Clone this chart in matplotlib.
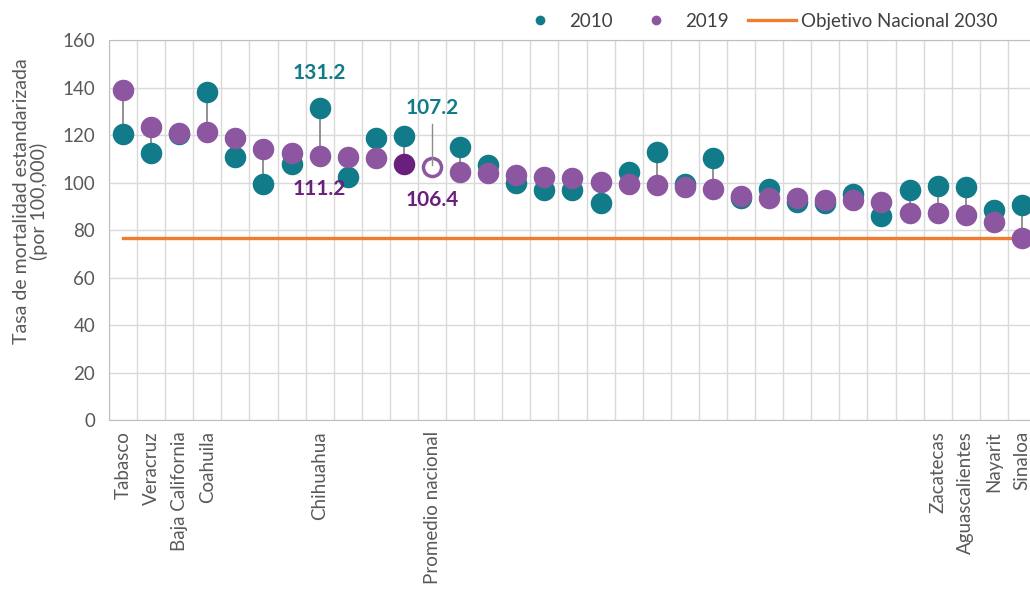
import numpy as np
import matplotlib
matplotlib.use("Agg")
import matplotlib.pyplot as plt
from matplotlib.lines import Line2D

plt.rcParams['font.family'] = ['Lato', 'DejaVu Sans']

# datos: tasa de mortalidad estandarizada (por 100,000)
labels = ['Tabasco', 'Veracruz', 'Baja California', 'Coahuila', '', '', '', 'Chihuahua',
          '', '', '', 'Promedio nacional', '', '', '', '', '', '', '', '', '', '', '', '',
          '', '', '', '', '', 'Zacatecas', 'Aguascalientes', 'Nayarit', 'Sinaloa']
v2010 = [120.4, 112.5, 120.4, 138.2, 110.9, 99.4, 107.8, 131.2, 102.4, 118.6, 119.6, 107.2,
         115.1, 107.4, 99.9, 96.8, 96.8, 91.5, 104.6, 113.0, 99.4, 110.2, 93.3, 97.5,
         91.9, 91.2, 95.0, 85.9, 96.8, 98.5, 98.2, 88.4, 90.5]
v2019 = [138.9, 123.5, 121.0, 121.4, 118.6, 114.0, 112.3, 111.2, 110.9, 110.2, 107.8, 106.4,
         104.5, 103.9, 103.2, 102.5, 101.8, 100.4, 99.6, 98.9, 98.0, 97.5, 94.3, 93.3,
         93.3, 92.6, 92.6, 91.9, 87.3, 87.0, 86.3, 83.5, 76.5]
objetivo = 76.5
idx_nacional = 11
idx_oscuro = 10

teal = '#127b8a'
morado = '#8c56a0'
morado_osc = '#6a1f7c'
naranja = '#ee7d31'
gris = '#595959'
fs = 13.5

fig = plt.figure(figsize=(10.30, 6.04), dpi=100)
ax = fig.add_axes([0.1058, 0.3046, 0.9, 0.629])

x = np.arange(len(labels))
ax.set_xlim(-0.5, len(labels) - 0.5)
ax.set_ylim(0, 160)

# lineas que unen 2010 y 2019
for i in x:
    if i == idx_nacional:
        continue
    ax.plot([i, i], [v2010[i], v2019[i]], color='#7f7f7f', lw=1.2, zorder=2)

# objetivo
ax.plot([0, len(labels) - 1], [objetivo, objetivo], color=naranja, lw=2.4, zorder=2.5)

estados = [i for i in x if i != idx_nacional]
ax.plot(estados, [v2010[i] for i in estados], 'o', color=teal, ms=15.5, mew=0, zorder=3)
normales = [i for i in estados if i != idx_oscuro]
ax.plot(normales, [v2019[i] for i in normales], 'o', color=morado, ms=15.5, mew=0, zorder=4)
ax.plot([idx_oscuro], [v2019[idx_oscuro]], 'o', color=morado_osc, ms=15.5, mew=0, zorder=4)

# promedio nacional
ax.plot([idx_nacional], [v2019[idx_nacional]], 'o', mfc='white', mec=morado, ms=13, mew=2.5, zorder=4)
ax.plot([idx_nacional, idx_nacional], [v2010[idx_nacional], 124.5], color='#8c8c8c', lw=1, zorder=5)
ax.text(idx_nacional, 131.4, f'{v2010[idx_nacional]:.1f}', color=teal, fontsize=15,
        fontweight='bold', ha='center', va='center')
ax.text(idx_nacional, 92.6, f'{v2019[idx_nacional]:.1f}', color=morado_osc, fontsize=15,
        fontweight='bold', ha='center', va='center')

# etiquetas de Chihuahua
ch = 7
ax.text(ch, 146, f'{v2010[ch]:.1f}', color=teal, fontsize=15, fontweight='bold',
        ha='center', va='center')
ax.text(ch, 97.3, f'{v2019[ch]:.1f}', color=morado_osc, fontsize=15, fontweight='bold',
        ha='center', va='center', zorder=6)

# cuadricula
ax.set_yticks(np.arange(0, 161, 20))
ax.set_xticks(x)
ax.set_xticklabels(labels, rotation=90, fontsize=fs, color=gris)
ax.set_xticks(np.arange(-0.5, len(labels), 1), minor=True)
ax.grid(which='minor', axis='x', color='#d9d9d9', lw=1)
ax.grid(which='major', axis='y', color='#d9d9d9', lw=1)
ax.set_axisbelow(True)
ax.tick_params(axis='x', which='both', length=0, pad=8)
ax.tick_params(axis='y', length=0, labelsize=fs, labelcolor=gris, pad=10)
for s in ax.spines.values():
    s.set_color('#bfbfbf')

ax.set_ylabel('Tasa de mortalidad estandarizada\n(por 100,000)', fontsize=14, color=gris,
              linespacing=1.0)
ax.yaxis.set_label_coords(-0.066, 0.575)

handles = [Line2D([], [], marker='o', ls='none', color=teal, ms=7, mew=0),
           Line2D([], [], marker='o', ls='none', color=morado, ms=7, mew=0),
           Line2D([], [], color=naranja, lw=2.4)]
fig.legend(handles, ['2010', '2019', 'Objetivo Nacional 2030'], ncol=3, frameon=False,
           loc='center right', bbox_to_anchor=(0.985, 0.965), fontsize=fs,
           handlelength=2.56, columnspacing=1.0, handletextpad=0.3,
           labelcolor='#404040')

fig.savefig('out.png', dpi=100)
